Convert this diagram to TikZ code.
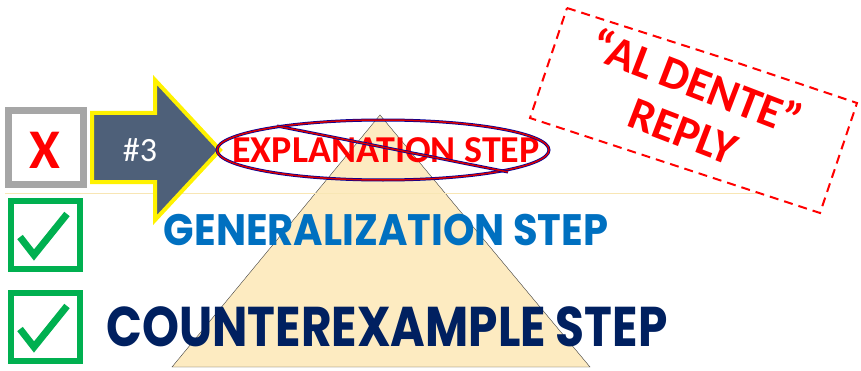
\documentclass[tikz,border=0pt]{standalone}
\usepackage{fontspec}
\usepackage{graphicx}
\newfontfamily\calibri{Carlito}
\newfontfamily\futura{Poppins}
\usetikzlibrary{shapes}
\usetikzlibrary{positioning}
\definecolor{ardoise}{HTML}{4E6079}
\definecolor{bleuclair}{HTML}{0070C0}
\definecolor{bleunuit}{HTML}{002060}
\definecolor{vertcoche}{HTML}{00B050}
\definecolor{ble}{HTML}{FDEBC1}
\definecolor{ligneble}{HTML}{F8E6B4}
\begin{document}
\begin{tikzpicture}[x=1pt,y=1pt]
% définition des paramètres
\tikzstyle cadregris=[draw=black!35,line width=7pt]
\tikzstyle cadrevert=[draw=vertcoche,line width=6.5pt]
\tikzstyle coche=[draw=vertcoche,line width=7pt]
\tikzstyle flechetrois=[draw=yellow,fill=ardoise,line width=4pt,line join=miter]
\tikzstyle pyramide=[draw=black!75,fill=ble,thin]
\tikzstyle tampon=[draw=red,dashed,dash pattern=on 9pt off 6pt,line width=2pt]
\tikzstyle texttampon=[text=red,font=\calibri\bfseries\fontsize{46}{48}\selectfont,rotate=-21]
\useasboundingbox (0,0) rectangle (861,370);
% la pyramide
\draw[pyramide] (380,255) -- (590,3) -- (172,3) -- cycle;
% la ligne
\draw[ligneble,thin] (5,177) -- (760,177);
% la croix
\draw[cadregris] (8.5,185.5) rectangle (83.5,259.5);
\node (croix) at (45,220) {\calibri\bfseries\fontsize{56}{58}\selectfont\color{red}X};
% les coches
\draw[cadrevert] (11,101) rectangle (80,169);
\draw[coche] (20,133) -- (34,115) -- (67,156);
\draw[cadrevert] (11,9) rectangle (80,77);
\draw[coche] (20,41) -- (34,23) -- (67,64);
% la flèche
\draw[flechetrois] (92,188) -- (155,188) -- (155,150) -- (220,220) -- (155,290) -- (155,257) -- (92,257) -- cycle;
\node (numero) at (140,220) {\calibri\fontsize{34}{36}\selectfont\color{white}\#3};
% les étapes
\node (explication) at (386,220) {\calibri\bfseries\fontsize{38}{40}\selectfont\color{red}EXPLANATION STEP};
\draw[blue!60!black,line width=3pt] (383,220) ellipse (166pt and 30pt);
\draw[red!85!black,line width=1.5pt] (383,220) ellipse (166pt and 30pt);
\draw[blue!60!black,line width=3pt] (277,244) -- (508,198);
\draw[red!85!black,line width=1.5pt] (277,244) -- (508,198);
\node (generalisation) at (386,140) {\futura\bfseries\fontsize{44}{46}\selectfont\color{bleuclair}\scalebox{0.91}[1]{GENERALIZATION STEP}};
\node (contreexemple) at (387,43) {\futura\bfseries\fontsize{56}{58}\selectfont\color{bleunuit}\scalebox{0.84}[1]{COUNTEREXAMPLE STEP}};
% le tampon
\draw[tampon] (567,362) -- (720,313) -- (857,267) -- (820,157) -- (530,252) -- cycle;
\node[texttampon] (aldente) at (697,289) {“AL DENTE”};
\node[texttampon] (reponse) at (683,238) {REPLY};
\end{tikzpicture}
\end{document}
